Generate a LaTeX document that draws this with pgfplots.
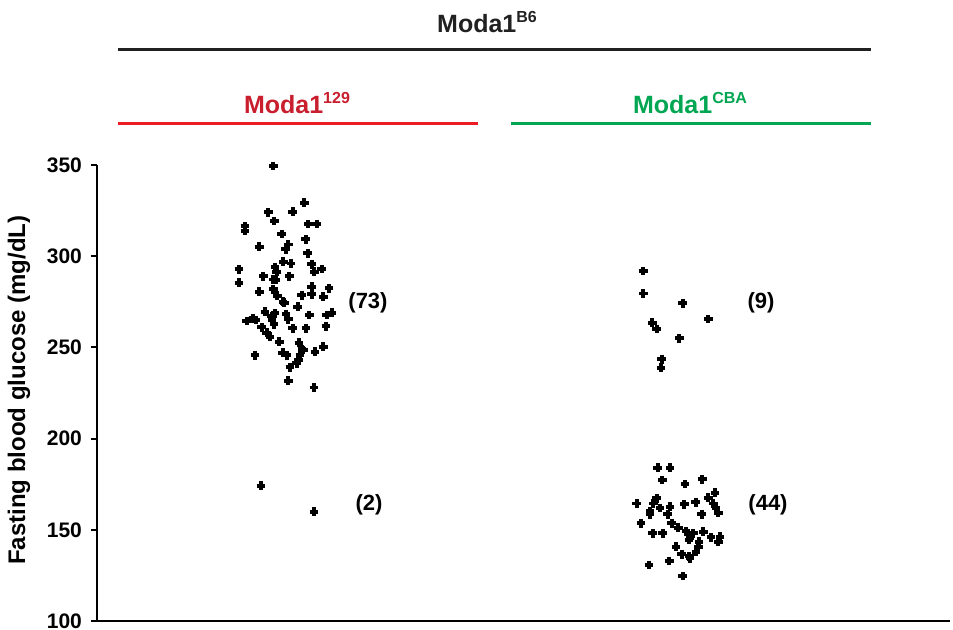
\documentclass[border=0pt]{standalone}
\usepackage{pgfplots}
\pgfplotsset{compat=1.18}
\usepackage{fontspec}
\setmainfont{Liberation Sans}
\definecolor{myred}{RGB}{200,30,45}
\definecolor{linered}{RGB}{237,28,36}
\definecolor{mygreen}{RGB}{0,166,81}
\newcommand{\mysup}[1]{\raisebox{0.75ex}{\fontsize{8}{9}\selectfont #1}}
\begin{document}
\begin{tikzpicture}
\begin{axis}[
  x=0.5pt, y=0.912pt,
  xmin=97, xmax=950, ymin=100, ymax=350,
  axis x line=bottom, axis y line=left,
  axis line style={line width=1pt, -},
  xtick=\empty,
  ytick={100,150,200,250,300,350},
  tick align=outside, major tick length=3pt,
  tick style={line width=1pt, black},
  /pgf/number format/assume math mode=true,
  yticklabel style={font=\fontsize{10.5}{12}\selectfont\bfseries, xshift=-1pt},
  clip=false,
]
\addplot[only marks, mark=+, mark size=2.2pt, line width=1.9pt] coordinates {
(273.3,349.5)(304.3,329.3)(268.3,324.1)(292.7,324.4)(274.3,319.3)(308.3,317.7)(316.7,317.7)
(245,316.6)(245,314.0)(281.7,312.2)(305.7,309.3)(259.3,305.2)(288.3,306.5)(285.7,303.9)
(307.7,301.6)(283.3,297.0)(311.7,295.6)(239,292.8)(275,293.9)(276.7,291.5)(314.3,291.5)
(321.7,293.0)(263.3,289.1)(289.3,289.1)(273.3,287.3)(239,285.5)(311.7,283.3)(329,282.4)
(259.3,280.5)(273.3,281.9)(301.7,278.7)(311.7,279.1)(323.3,277.8)(277.3,278.3)(284.3,274.5)
(265,269.6)(297.7,272.3)(275,268.7)(286,268.3)(309.3,267.8)(326.7,267.8)(331.7,269.0)
(246.7,264.5)(253.3,266.0)(256,265.0)(271.7,267.2)(288.3,265.4)(261.7,261.0)(274,262.8)
(292.7,260.5)(306,260.5)(326,261.7)(266.7,258.1)(270,255.9)(279.3,253.1)(299,252.6)
(282.7,247.1)(286.7,245.8)(303.3,248.6)(300,245.8)(315,247.6)(323.3,250.4)(255,245.8)
(298.3,243.1)(296.7,241.3)(290,239.1)(288.3,231.7)(314,228.1)
(291,296)(276,287)(302,249)(272,265)(283,275)
(261,174.2)(314,159.9)
};
\addplot[only marks, mark=+, mark size=2.2pt, line width=1.9pt] coordinates {
(643.3,291.9)(643.3,279.6)(682.7,274.2)(708.3,265.6)(652.3,263.5)(656.7,260.1)(679.3,255.0)
(661.7,243.6)(661,238.9)
(657.7,184.0)(670,184.0)(662.3,177.3)(685,175.1)(702.3,177.7)(715,170.3)(708.3,167.6)
(636.7,164.5)(656.7,167.3)(653.3,164.5)(670,162.7)(684.3,164.1)(695.7,165.1)(713.3,164.5)
(716,161.8)(718.3,159.4)(650,160.3)(650,158.5)(667.7,158.5)(701.7,158.5)(641,153.6)
(671.7,153.6)(678.3,151.2)(686,149.3)(693.3,148.1)(703.3,149.0)(652.7,148.1)(662.7,148.1)
(690,145.7)(711,145.9)(720,146.2)(718.3,143.5)(699,143.5)(689,144.4)(698.3,140.7)
(676,140.7)(681.7,136.6)(689.3,135.6)(690,134.4)(696,138.0)(649,130.7)(669.3,132.9)
(682.7,124.7)(660,162)
};
\node[font=\fontsize{11}{13}\selectfont\bfseries] at (axis cs:368,274.3) {(73)};
\node[font=\fontsize{11}{13}\selectfont\bfseries] at (axis cs:369,163.6) {(2)};
\node[font=\fontsize{11}{13}\selectfont\bfseries] at (axis cs:761,274.3) {(9)};
\node[font=\fontsize{11}{13}\selectfont\bfseries] at (axis cs:768,163.6) {(44)};
\node[rotate=90, font=\fontsize{12}{14}\selectfont\bfseries] at (axis cs:19,226.6) {Fasting blood glucose (mg/dL)};
\node[font=\fontsize{12.5}{14}\selectfont\bfseries, text=black!87] at (axis cs:487,428.4) {Moda1\mysup{B6}};
\draw[line width=1.5pt, black!87] (axis cs:118,413.6) -- (axis cs:871,413.6);
\node[font=\fontsize{12.5}{14}\selectfont\bfseries, text=myred] at (axis cs:297,384.0) {Moda1\mysup{129}};
\node[font=\fontsize{12.5}{14}\selectfont\bfseries, text=mygreen] at (axis cs:690,384.0) {Moda1\mysup{CBA}};
\draw[line width=1.5pt, linered] (axis cs:118,373.0) -- (axis cs:478,373.0);
\draw[line width=1.5pt, mygreen] (axis cs:511,373.0) -- (axis cs:871,373.0);
\coordinate (bl) at (axis cs:0,95.6);
\coordinate (tr) at (axis cs:953,440.5);
\end{axis}
\pgfresetboundingbox
\path[use as bounding box] (bl) rectangle (tr);
\end{tikzpicture}
\end{document}
